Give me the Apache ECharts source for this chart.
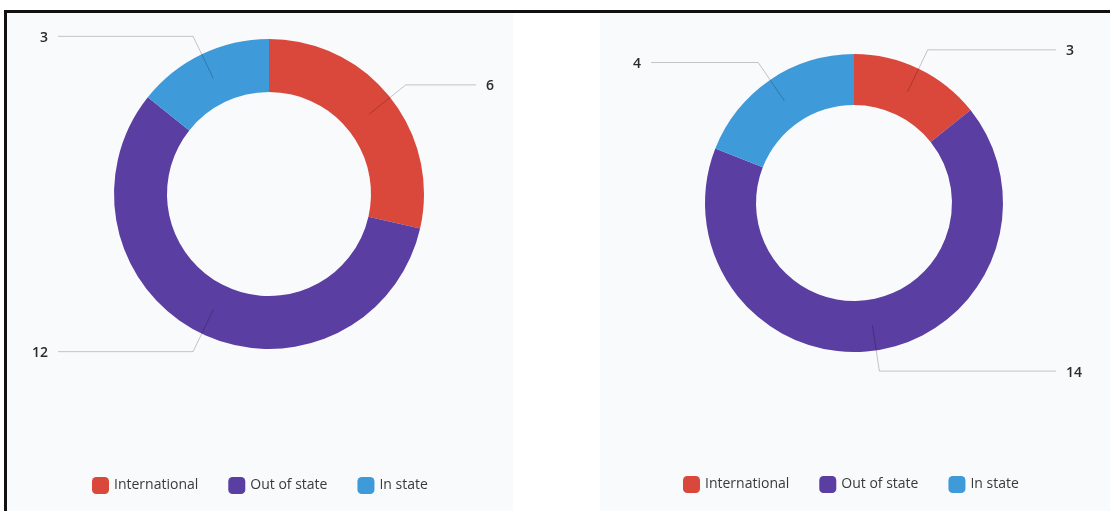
<!DOCTYPE html>
<html>
<head>
<meta charset="utf-8">
<script src="https://cdn.jsdelivr.net/npm/echarts@6/dist/echarts.min.js"></script>
<style>
  html, body { margin: 0; padding: 0; background: #ffffff; }
  #chart { width: 1110px; height: 511px; }
</style>
</head>
<body>
<div id="chart"></div>
<script>
// ---- data ----
const categories = ['International', 'Out of state', 'In state'];
const leftValues = [6, 12, 3];
const rightValues = [3, 14, 4];
const sliceColors = ['#d9483b', '#5a3ea1', '#3e9ad8'];

function toData(values) {
  return categories.map((name, i) => ({ name: name, value: values[i] }));
}

const fontFamily = '"Open Sans", "DejaVu Sans", sans-serif';
const LABEL_GAP = 10;     // gap between line end and label text
const LABEL_SLOT = 13;    // width of the label slot at the edge

function donut(rect, center, radius) {
  return {
    type: 'pie',
    left: rect[0], top: rect[1], width: rect[2], height: rect[3],
    center: center,
    radius: radius,
    startAngle: 90,
    clockwise: true,
    avoidLabelOverlap: false,
    silent: true,
    emphasis: { disabled: true },
    label: { show: false },
    labelLine: { show: false },
    itemStyle: { borderWidth: 0 },
    z: 2
  };
}

// labels sit in a slot at the chart edge, text aligned toward the line;
// the horizontal part of each label line is stretched up to its label
function edgeLabel(params) {
  const pts = params.labelLinePoints;
  if (!pts || pts.length < 3) return {};
  const r = params.labelRect;
  const isLeft = pts[2][0] < pts[1][0];
  const lineY = pts[2][1];
  let textX, endX, align;
  if (isLeft) {
    textX = r.x + LABEL_SLOT;
    align = 'right';
    endX = textX + LABEL_GAP;
  } else {
    textX = r.x + r.width - LABEL_SLOT;
    align = 'left';
    endX = textX - LABEL_GAP;
  }
  return {
    x: textX,
    y: lineY + 1.5,
    align: align,
    verticalAlign: 'middle',
    labelLinePoints: [
      [pts[0][0], pts[0][1]],
      [pts[1][0], pts[1][1]],
      [endX, lineY]
    ]
  };
}

function labelPie(rect, center, midR, lineLen) {
  return {
    type: 'pie',
    left: rect[0], top: rect[1], width: rect[2], height: rect[3],
    center: center,
    radius: [0, midR],
    startAngle: 90,
    clockwise: true,
    avoidLabelOverlap: false,
    silent: true,
    emphasis: { disabled: true },
    itemStyle: { color: 'rgba(0,0,0,0)', borderWidth: 0 },
    label: {
      show: true,
      position: 'outside',
      alignTo: 'edge',
      edgeDistance: 25,
      distanceToLabelLine: 8,
      formatter: '{c}',
      color: '#2b2b2b',
      fontSize: 14,
      fontWeight: 600,
      fontFamily: fontFamily
    },
    labelLine: {
      show: true,
      length: lineLen,
      length2: 10,
      smooth: false,
      lineStyle: { color: 'rgba(0,0,0,0.22)', width: 1 }
    },
    labelLayout: edgeLabel,
    z: 3
  };
}

const leftRect = [10, 0, 514, 511];
const rightRect = [603, 0, 501, 511];

const s0 = donut(leftRect, [259, 194], [102, 155]);
s0.data = toData(leftValues);
const s1 = donut(rightRect, [251, 203], [98, 149]);
s1.data = toData(rightValues);
const s2 = labelPie(leftRect, [259, 194], 128, 47);
s2.data = toData(leftValues);
const s3 = labelPie(rightRect, [251, 203], 123.5, 46.5);
s3.data = toData(rightValues);

function legend(left, top) {
  return {
    data: categories,
    left: left,
    top: top,
    padding: 0,
    orient: 'horizontal',
    icon: 'roundRect',
    itemWidth: 17,
    itemHeight: 17,
    itemGap: 30,
    selectedMode: false,
    textStyle: { fontSize: 14, color: '#3a3a3a', fontFamily: fontFamily }
  };
}

const chart = echarts.init(document.getElementById('chart'), null, { renderer: 'canvas' });
chart.setOption({
  animation: false,
  backgroundColor: '#ffffff',
  color: sliceColors,
  graphic: [
    { type: 'rect', shape: { x: 7, y: 13, width: 506, height: 498 }, style: { fill: '#f9fafc' }, z: -10, silent: true },
    { type: 'rect', shape: { x: 600, y: 13, width: 510, height: 498 }, style: { fill: '#f9fafc' }, z: -10, silent: true },
    { type: 'rect', shape: { x: 4, y: 10, width: 1106, height: 3 }, style: { fill: '#111111' }, z: 10, silent: true },
    { type: 'rect', shape: { x: 4, y: 10, width: 3, height: 501 }, style: { fill: '#111111' }, z: 10, silent: true }
  ],
  legend: [legend(92, 477), legend(683, 476)],
  series: [s0, s1, s2, s3]
});
</script>
</body>
</html>
